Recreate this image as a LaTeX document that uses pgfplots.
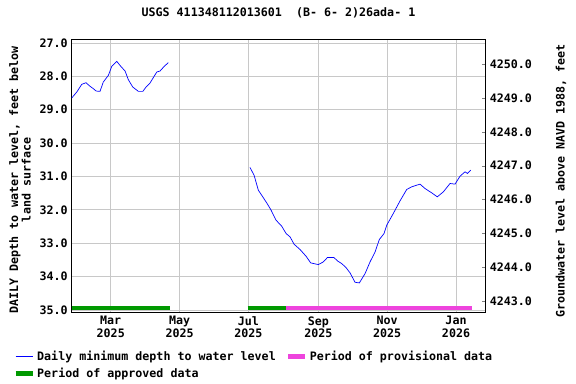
\documentclass[border=0pt]{standalone}
\usepackage{pgfplots}
\pgfplotsset{compat=1.18}
\usepackage{fontspec}
\setmainfont{DejaVu Sans Mono}
\definecolor{appr}{RGB}{0,153,0}
\definecolor{prov}{RGB}{238,68,221}
\definecolor{gridc}{RGB}{200,200,200}
\begin{document}
\fontsize{11.7}{12.5}\selectfont\bfseries
\begin{tikzpicture}[font=\fontsize{11.7}{12.5}\selectfont\bfseries]
\useasboundingbox (0,0) rectangle (576bp,384bp);
\begin{axis}[
  at={(71.7bp,71.7bp)}, anchor=south west,
  scale only axis, width=414bp, height=273bp,
  xmin=24.4, xmax=391.3,
  ymin=26.89, ymax=35.07, y dir=reverse,
  xtick={59,120,181,243,304,365},
  xticklabels={{Mar\\2025},{May\\2025},{Jul\\2025},{Sep\\2025},{Nov\\2025},{Jan\\2026}},
  xticklabel style={align=center},
  ytick={27,28,...,35},
  /pgf/number format/fixed, /pgf/number format/fixed zerofill,
  /pgf/number format/precision=1, /pgf/number format/assume math mode=true,
  /pgf/number format/1000 sep={},
  grid=major, grid style={gridc, line width=0.8bp},
  tick style={draw=none},
  axis line style={line width=1bp},
  title={USGS 411348112013601~ (B- 6- 2)26ada- 1},
  title style={at={(axis description cs:0.4995,1.074)}, anchor=center},
  ylabel={DAILY Depth to water level, feet below\\land surface},
  ylabel style={align=center, at={(axis description cs:-0.125,0.485)}, anchor=center},
  legend columns=2,
  legend cell align=left,
  legend style={at={(axis description cs:-0.149,-0.127)}, anchor=north west,
    draw=none, fill=none, row sep=2bp,
    /tikz/every even column/.append style={column sep=8bp}},
]
\addlegendimage{blue, line width=0.8bp}
\addlegendentry{Daily minimum depth to water level}
\addlegendimage{prov, line width=5bp}
\addlegendentry{Period of provisional data}
\addlegendimage{appr, line width=5bp}
\addlegendentry{Period of approved data}

\addplot[blue, line width=0.7bp, forget plot] coordinates {
(24.4,28.65) (28.9,28.47) (33.3,28.24) (37.1,28.19) (40.0,28.28) (43.6,28.37)
(46.0,28.44) (49.5,28.45) (52.4,28.17) (56.9,27.97) (59.9,27.70) (64.3,27.55)
(67.9,27.70) (71.7,27.84) (74.6,28.10) (78.5,28.32) (83.5,28.45) (87.4,28.45)
(90.3,28.32) (93.8,28.20) (99.8,27.87) (102.7,27.84) (106.4,27.70) (110.0,27.59)
};
\addplot[blue, line width=0.7bp, forget plot] coordinates {
(182.4,30.73) (186.0,30.96) (189.8,31.41) (193.7,31.61) (197.2,31.79) (200.8,31.99)
(205.5,32.31) (210.5,32.49) (214.4,32.71) (217.9,32.81) (221.5,33.03) (226.8,33.19)
(232.1,33.39) (236.2,33.59) (243.0,33.64) (247.4,33.56) (251.0,33.43) (256.9,33.43)
(259.9,33.53) (263.7,33.61) (267.5,33.73) (271.1,33.89) (275.5,34.17) (279.3,34.19)
(284.4,33.91) (288.8,33.56) (293.3,33.26) (297.0,32.89) (301.2,32.71) (303.6,32.46)
(309.4,32.11) (315.4,31.73) (321.3,31.39) (325.7,31.31) (333.1,31.23) (337.5,31.36)
(343.4,31.49) (348.4,31.61) (353.8,31.46) (359.7,31.21) (364.1,31.23) (368.6,30.99)
(373.0,30.86) (375.1,30.91) (378.0,30.81)
};
\addplot[appr, line width=4bp, forget plot] coordinates {(24.4,34.94) (111.6,34.94)};
\addplot[appr, line width=4bp, forget plot] coordinates {(180.4,34.94) (214.1,34.94)};
\addplot[prov, line width=4bp, forget plot] coordinates {(214.1,34.94) (379.0,34.94)};
\end{axis}
\begin{axis}[
  at={(71.7bp,71.7bp)}, anchor=south west,
  scale only axis, width=414bp, height=273bp,
  xmin=24.4, xmax=391.3,
  ymin=4242.67, ymax=4250.73,
  axis y line*=right, axis x line=none,
  ytick={4243,4244,...,4250},
  /pgf/number format/fixed, /pgf/number format/fixed zerofill,
  /pgf/number format/precision=1, /pgf/number format/assume math mode=true,
  /pgf/number format/1000 sep={},
  tick align=inside, major tick length=3.5bp,
  axis line style={line width=1bp},
  ylabel={Groundwater level above NAVD 1988, feet},
  ylabel style={at={(axis description cs:1.182,0.481)}, anchor=center},
]
\addplot[draw=none] coordinates {(100,4245)};
\end{axis}
\end{tikzpicture}
\end{document}
